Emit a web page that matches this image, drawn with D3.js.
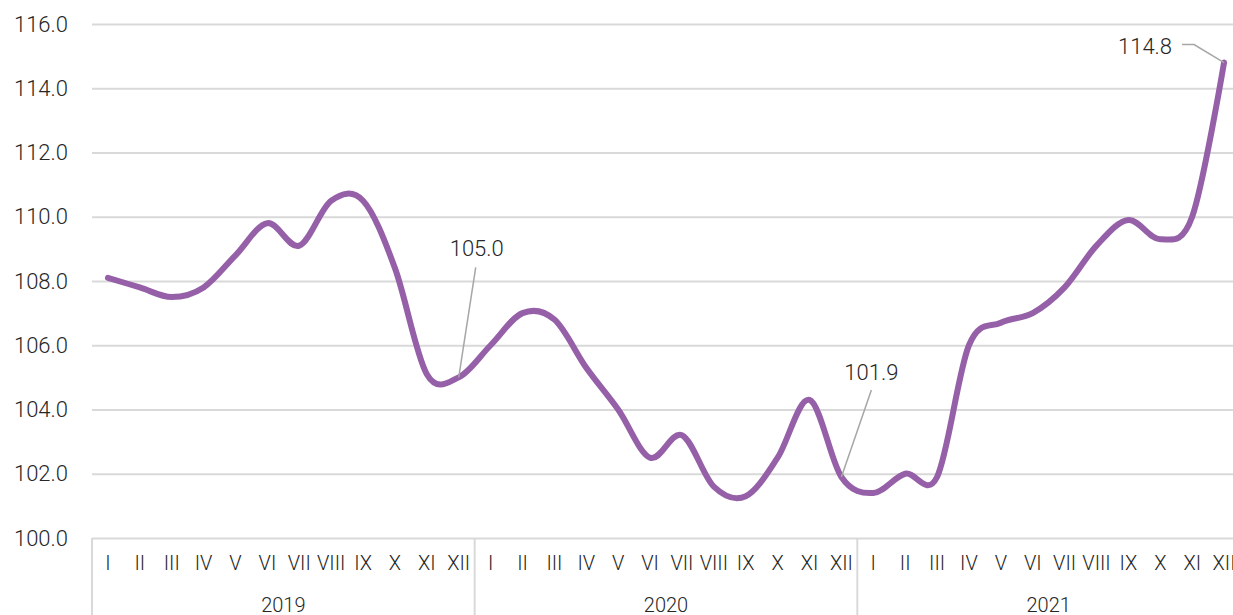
<!DOCTYPE html>
<html>
<head>
<meta charset="utf-8">
<script src="https://cdn.jsdelivr.net/npm/d3@7"></script>
<style>
body { margin: 0; background: #fff; }
svg { display: block; }
text { font-family: Roboto, "Open Sans", sans-serif; font-weight: 300; fill: #262626; }
</style>
</head>
<body>
<div id="chart"></div>
<script>
var years = ["2019", "2020", "2021"]
var months = ["I", "II", "III", "IV", "V", "VI", "VII", "VIII", "IX", "X", "XI", "XII"]
var values2019 = [108.1, 107.8, 107.5, 107.8, 108.8, 109.8, 109.1, 110.5, 110.5, 108.4, 105.1, 105.0]
var values2020 = [106.0, 107.0, 106.8, 105.3, 104.0, 102.5, 103.2, 101.6, 101.3, 102.5, 104.3, 101.9]
var values2021 = [101.4, 102.0, 101.9, 106.0, 106.7, 107.0, 107.8, 109.1, 109.9, 109.3, 110.0, 114.8]
var yTicks = [100, 102, 104, 106, 108, 110, 112, 114, 116]
// which points carry a value label
var labelled = ["2019-XII", "2020-XII", "2021-XII"]

var data = []
var allValues = [values2019, values2020, values2021]
years.forEach(function (yr, yi) {
    months.forEach(function (m, mi) {
        data.push({ key: yr + "-" + m, year: yr, month: m, value: allValues[yi][mi] })
    })
})

var W = 1233, H = 615
var margin = { top: 24, left: 92, bottom: 77 }
var plotRight = 1240

var svg = d3.select("#chart")
    .append("svg")
    .attr("width", W)
    .attr("height", H)

var x = d3.scaleBand()
    .domain(data.map(function (d) { return d.key }))
    .range([margin.left, plotRight])
    .padding(0)

var y = d3.scaleLinear()
    .domain([100, 116])
    .range([H - margin.bottom, margin.top])

var fmt = d3.format(".1f")

// gridlines + y labels
var yAxis = svg.append("g")
    .attr("transform", "translate(" + margin.left + ",0)")
    .call(d3.axisLeft(y).tickValues(yTicks).tickFormat(fmt)
        .tickSize(-(plotRight - margin.left)).tickPadding(24))
yAxis.select(".domain").remove()
yAxis.selectAll("line").attr("stroke", "#d9d9d9").attr("stroke-width", 2)
yAxis.selectAll("text").style("font-size", "22px").attr("fill", "#262626")

// month labels
var xAxis = svg.append("g")
    .attr("transform", "translate(0," + y(100) + ")")
    .call(d3.axisBottom(x).tickSize(0).tickPadding(18)
        .tickFormat(function (k) { return k.split("-")[1] }))
xAxis.select(".domain").remove()
xAxis.selectAll("text").style("font-size", "20px").attr("fill", "#262626")

// year groups: separators and labels
var yearStart = function (yr) { return x(yr + "-I") }
var yearEnd = function (yr) { return x(yr + "-XII") + x.bandwidth() }

svg.append("g").selectAll("line")
    .data(years)
    .enter()
    .append("line")
    .attr("x1", yearStart).attr("x2", yearStart)
    .attr("y1", y(100)).attr("y2", H)
    .attr("stroke", "#d9d9d9")
    .attr("stroke-width", 2)

svg.append("g").selectAll("text")
    .data(years)
    .enter()
    .append("text")
    .attr("x", function (d) { return (yearStart(d) + yearEnd(d)) / 2 })
    .attr("y", 612)
    .attr("text-anchor", "middle")
    .style("font-size", "20px")
    .text(function (d) { return d })

// the line
var line = d3.line()
    .x(function (d) { return x(d.key) + x.bandwidth() / 2 })
    .y(function (d) { return y(d.value) })
    .curve(d3.curveCardinal.tension(0))

svg.append("path")
    .datum(data)
    .attr("d", line)
    .attr("fill", "none")
    .attr("stroke", "#9660a8")
    .attr("stroke-width", 6)
    .attr("stroke-linecap", "round")
    .attr("stroke-linejoin", "round")

// value callouts (offsets relative to the point)
var calloutStyle = {
    "2019-XII": { tx: 18, ty: -121, anchor: "middle", leader: [[17, -110]] },
    "2020-XII": { tx: 30, ty: -97, anchor: "middle", leader: [[30, -87]] },
    "2021-XII": { tx: -52, ty: -9, anchor: "end", leader: [[-42, -18], [-30, -18]] }
}

labelled.forEach(function (k) {
    var d = data.find(function (p) { return p.key === k })
    var px = x(d.key) + x.bandwidth() / 2
    var py = y(d.value)
    var c = calloutStyle[k]
    var pts = c.leader.map(function (o) { return [px + o[0], py + o[1]] })
    pts.push([px, py])
    svg.append("path")
        .attr("d", d3.line()(pts))
        .attr("fill", "none")
        .attr("stroke", "#a6a6a6")
        .attr("stroke-width", 1.5)
    svg.append("text")
        .attr("x", px + c.tx)
        .attr("y", py + c.ty)
        .attr("text-anchor", c.anchor)
        .style("font-size", "22px")
        .text(fmt(d.value))
})
</script>
</body>
</html>
